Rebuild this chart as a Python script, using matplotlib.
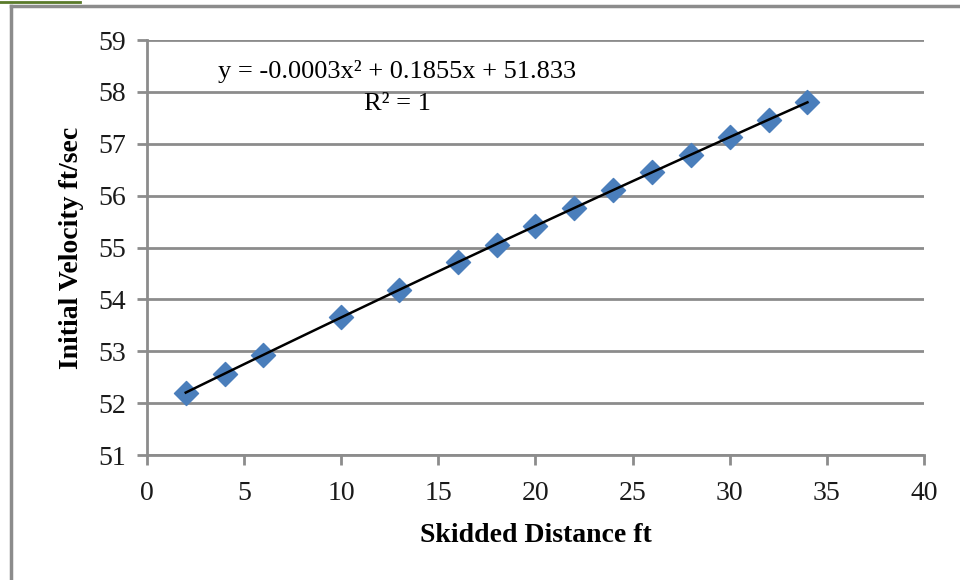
import matplotlib.pyplot as plt
import numpy as np

# skid distance vs initial velocity
distance = [2, 4, 6, 10, 13, 16, 18, 20, 22, 24, 26, 28, 30, 32, 34]
velocity = [52.20, 52.57, 52.93, 53.66, 54.19, 54.72, 55.04, 55.42,
            55.77, 56.11, 56.45, 56.79, 57.13, 57.46, 57.80]

x_ticks = [0, 5, 10, 15, 20, 25, 30, 35, 40]
y_ticks = [51, 52, 53, 54, 55, 56, 57, 58, 59]

plt.rcParams['font.family'] = ['Liberation Serif', 'DejaVu Serif']

fig = plt.figure(figsize=(9.6, 5.8), dpi=100)
ax = fig.add_axes([0.153, 0.2155, 0.8095, 0.7155])

# outer chart border (document frame)
fig.add_artist(plt.Line2D([11 / 960, 11 / 960], [0, 1 - 6 / 580],
                          transform=fig.transFigure, color='#8c8c8c', lw=2.5))
fig.add_artist(plt.Line2D([11 / 960, 1], [1 - 6 / 580, 1 - 6 / 580],
                          transform=fig.transFigure, color='#8c8c8c', lw=2.5))
fig.add_artist(plt.Line2D([0, 80 / 960], [1 - 2 / 580, 1 - 2 / 580],
                          transform=fig.transFigure, color='#5a7a2a', lw=2))

ax.set_xlim(0, 40)
ax.set_ylim(51, 59)
ax.set_xticks(x_ticks)
ax.set_yticks(y_ticks)
ax.grid(axis='y', color='#8c8c8c', lw=2)
ax.set_axisbelow(True)
for s in ['top', 'right']:
    ax.spines[s].set_visible(False)
for s in ['left', 'bottom']:
    ax.spines[s].set_color('#8c8c8c')
    ax.spines[s].set_linewidth(2)
ax.tick_params(axis='both', colors='#8c8c8c', width=2, length=7,
               labelsize=20, labelcolor='#1a1a1a')
ax.tick_params(axis='x', pad=12)
ax.tick_params(axis='y', pad=8)

# polynomial trendline
coef = np.polyfit(distance, velocity, 2)
xs = np.linspace(min(distance), max(distance), 100)
ax.plot(xs, np.polyval(coef, xs), color='black', lw=1.8, zorder=3)
ax.scatter(distance, velocity, marker='D', s=150, color='#4a7ebb', zorder=2,
           clip_on=False)

ax.text(0.322, 0.923, 'y = -0.0003x² + 0.1855x + 51.833',
        transform=ax.transAxes, ha='center', va='center', fontsize=19)
ax.text(0.322, 0.846, 'R² = 1', transform=ax.transAxes,
        ha='center', va='center', fontsize=19)

ax.set_xlabel('Skidded Distance ft', fontsize=20, fontweight='bold', labelpad=12)
ax.set_ylabel('Initial Velocity ft/sec', fontsize=20, fontweight='bold', labelpad=10)

fig.savefig('out.png', dpi=100)
